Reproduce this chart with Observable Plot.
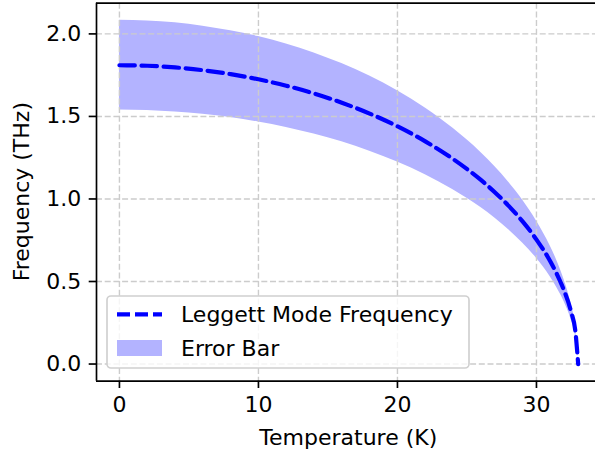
<!DOCTYPE html>
<html>
<head>
<meta charset="utf-8">
<script src="https://cdn.jsdelivr.net/npm/d3@7"></script>
<script src="https://cdn.jsdelivr.net/npm/@observablehq/plot@0.6"></script>
<style>
  html, body { margin: 0; padding: 0; background: #fff; overflow: hidden; }
  svg { font-family: "DejaVu Sans", sans-serif; }
</style>
</head>
<body>
<div id="chart"></div>
<script>
// Temperature (K)
const temps = [0, 2, 4, 6, 8, 10, 12, 14, 16, 18, 20, 22, 24, 26, 27, 28, 29, 30, 31, 31.5, 32, 32.5, 32.8, 33];
// Leggett mode frequency (THz)
const freq  = [1.810, 1.807, 1.797, 1.780, 1.756, 1.725, 1.686, 1.639, 1.583, 1.517, 1.440, 1.349, 1.242, 1.115, 1.041, 0.958, 0.864, 0.754, 0.621, 0.539, 0.442, 0.314, 0.199, 0];
// Error band upper / lower (THz)
const upper = [2.082, 2.078, 2.067, 2.047, 2.019, 1.984, 1.939, 1.885, 1.820, 1.745, 1.656, 1.551, 1.428, 1.282, 1.197, 1.102, 0.994, 0.867, 0.714, 0.620, 0.508, 0.361, 0.229, 0];
const lower = [1.539, 1.536, 1.527, 1.513, 1.493, 1.466, 1.433, 1.393, 1.346, 1.289, 1.224, 1.147, 1.056, 0.948, 0.885, 0.814, 0.734, 0.641, 0.528, 0.458, 0.376, 0.267, 0.169, 0];
const xTicks = [0, 10, 20, 30];
const yTicks = [0, 0.5, 1.0, 1.5, 2.0];
const seriesLabels = ["Leggett Mode Frequency", "Error Bar"];
const xLabel = "Temperature (K)";
const yLabel = "Frequency (THz)";

const data = temps.map((t, i) => ({T: t, f: freq[i], hi: upper[i], lo: lower[i]}));

const W = 595, H = 455;
const pLeft = 96, pRight = 600.6, pTop = 2.7, pBottom = 380.7;
const xDom = [-1.65, 34.65], yDom = [-0.104, 2.186];
const FS = 22;
const grid = {stroke: "#cccccc", strokeOpacity: 1, strokeWidth: 1.4, strokeDasharray: "6,2.7"};

const plot = Plot.plot({
  width: W, height: H,
  marginLeft: pLeft, marginRight: 0, marginTop: pTop, marginBottom: H - pBottom,
  x: {domain: xDom, range: [pLeft, pRight]},
  y: {domain: yDom, range: [pBottom, pTop]},
  style: {fontFamily: "DejaVu Sans", fontSize: FS + "px", color: "#000", background: "#fff", overflow: "hidden"},
  marks: [
    Plot.areaY(data, {x: "T", y1: "lo", y2: "hi", fill: "#b3b3ff", curve: "monotone-x"}),
    Plot.gridX(xTicks, grid),
    Plot.gridY(yTicks, grid),
    Plot.lineY(data, {x: "T", y: "f", stroke: "#0000ff", strokeWidth: 4.2, strokeDasharray: "15.4,6.7", curve: "monotone-x"}),
    Plot.axisX(xTicks, {anchor: "bottom", tickSize: 7.3, tickPadding: 8, strokeWidth: 1.67, label: null, fontSize: FS, tickFormat: d3.format("d")}),
    Plot.axisY(yTicks, {anchor: "left", tickSize: 7.3, tickPadding: 8, strokeWidth: 1.67, label: null, fontSize: FS, tickFormat: d3.format(".1f")}),
    Plot.ruleX([xDom[0]], {y1: yDom[0], y2: yDom[1], stroke: "#000", strokeWidth: 1.67}),
    Plot.ruleY([yDom[0], yDom[1]], {x1: xDom[0], x2: xDom[1], stroke: "#000", strokeWidth: 1.67})
  ]
});

const svg = d3.select(plot);
// axis labels
svg.append("text").attr("x", (pLeft + pRight) / 2).attr("y", 445)
  .attr("text-anchor", "middle").attr("font-size", FS).attr("fill", "#000").text(xLabel);
svg.append("text").attr("transform", `translate(29,${(pTop + pBottom) / 2}) rotate(-90)`)
  .attr("text-anchor", "middle").attr("font-size", FS).attr("fill", "#000").text(yLabel);

// legend
const lg = svg.append("g");
lg.append("rect").attr("x", 107).attr("y", 296).attr("width", 362).attr("height", 72).attr("rx", 4)
  .attr("fill", "#fff").attr("fill-opacity", 0.8).attr("stroke", "#d0d0d0").attr("stroke-width", 1.67);
lg.append("line").attr("x1", 117).attr("x2", 162).attr("y1", 314.3).attr("y2", 314.3)
  .attr("stroke", "#0000ff").attr("stroke-width", 4.2).attr("stroke-dasharray", "13,5");
lg.append("rect").attr("x", 117).attr("y", 340).attr("width", 45).attr("height", 16).attr("fill", "#b3b3ff");
lg.append("text").attr("x", 181).attr("y", 322).attr("text-anchor", "start").attr("font-size", FS).attr("fill", "#000").text(seriesLabels[0]);
lg.append("text").attr("x", 181).attr("y", 356).attr("text-anchor", "start").attr("font-size", FS).attr("fill", "#000").text(seriesLabels[1]);

document.getElementById("chart").appendChild(plot);
</script>
</body>
</html>
